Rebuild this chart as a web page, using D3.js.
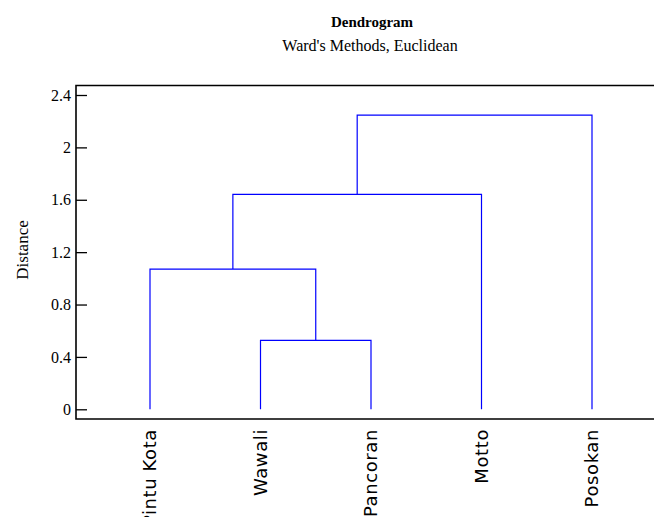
<!DOCTYPE html>
<html>
<head>
<meta charset="utf-8">
<script src="https://cdn.jsdelivr.net/npm/d3@7"></script>
<style>
  body { margin: 0; background: #fff; }
  svg { display: block; }
</style>
</head>
<body>
<div id="chart"></div>
<script>
// leaves in display order
const leaves = ["Pintu Kota", "Wawali", "Pancoran", "Motto", "Posokan"];
// hclust-style merges: negative = leaf index (1-based), positive = earlier merge row
const mergeLeft = [-2, -1, 2, 3];
const mergeRight = [-3, 1, -4, -5];
const mergeHeight = [0.527, 1.071, 1.641, 2.247];
const yTicks = [0, 0.4, 0.8, 1.2, 1.6, 2, 2.4];

const width = 654;
const height = 517;

const svg = d3
  .select("#chart")
  .append("svg")
  .attr("width", width)
  .attr("height", height);

const frame = { left: 76, top: 85.5, bottom: 419, right: 670 };

const x = d3.scalePoint().domain(leaves).range([150, 592]);

const y = d3.scaleLinear().domain([0, 2.4]).range([409.3, 95]);

// titles
svg
  .append("text")
  .attr("x", 372)
  .attr("y", 26.5)
  .attr("text-anchor", "middle")
  .style("font-family", "Liberation Serif")
  .style("font-weight", "bold")
  .style("font-size", "15px")
  .text("Dendrogram");

svg
  .append("text")
  .attr("x", 370)
  .attr("y", 50.5)
  .attr("text-anchor", "middle")
  .style("font-family", "Liberation Serif")
  .style("font-size", "16px")
  .text("Ward's Methods, Euclidean");

// y label
svg
  .append("text")
  .attr("text-anchor", "middle")
  .attr("transform", "rotate(-90)")
  .attr("x", -250)
  .attr("y", 28)
  .style("font-family", "Liberation Serif")
  .style("font-size", "17px")
  .text("Distance");

// y axis (ticks pointing inward)
const yAxis = svg
  .append("g")
  .attr("transform", `translate(${frame.left},0)`)
  .call(
    d3
      .axisLeft(y)
      .tickValues(yTicks)
      .tickFormat(d3.format("~g"))
      .tickSizeInner(-11)
      .tickSizeOuter(0)
      .tickPadding(5)
  );
yAxis.select(".domain").remove();
yAxis.selectAll(".tick line").attr("stroke", "#000").attr("stroke-width", 1.3);
yAxis
  .selectAll(".tick text")
  .style("font-family", "Liberation Serif")
  .style("font-size", "16px")
  .attr("fill", "#000");

// frame
svg
  .append("path")
  .attr(
    "d",
    `M${frame.right},${frame.top}H${frame.left}V${frame.bottom}H${frame.right}`
  )
  .attr("fill", "none")
  .attr("stroke", "#000")
  .attr("stroke-width", 1.6);

// dendrogram links
const nodeX = [];
const nodeH = [];
function posOf(i) {
  if (i < 0) return { x: x(leaves[-i - 1]), h: 0 };
  return { x: nodeX[i - 1], h: nodeH[i - 1] };
}

const links = svg.append("g");
mergeHeight.forEach((h, k) => {
  const a = posOf(mergeLeft[k]);
  const b = posOf(mergeRight[k]);
  nodeX.push((a.x + b.x) / 2);
  nodeH.push(h);
  links
    .append("path")
    .attr("d", `M${a.x},${y(a.h)}V${y(h)}H${b.x}V${y(b.h)}`)
    .attr("fill", "none")
    .attr("stroke", "#0000ff")
    .attr("stroke-width", 1.2);
});

// leaf labels
svg
  .append("g")
  .selectAll("text")
  .data(leaves)
  .enter()
  .append("text")
  .attr("transform", (d) => `translate(${x(d)},429) rotate(-90)`)
  .attr("dy", "0.35em")
  .attr("text-anchor", "end")
  .style("font-family", "DejaVu Sans")
  .style("font-size", "18px")
  .style("letter-spacing", "0.6px")
  .text((d) => d);
</script>
</body>
</html>
